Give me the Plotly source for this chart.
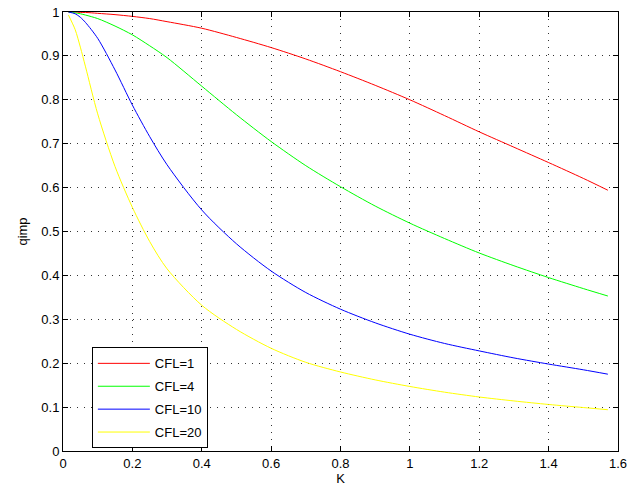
import plotly.graph_objects as go

K = [0.0157, 0.035, 0.05, 0.065, 0.1, 0.15, 0.2, 0.25, 0.3, 0.4, 0.5, 0.6, 0.7,
     0.8, 0.9, 1.0, 1.1, 1.2, 1.3, 1.4, 1.5, 1.5708]

q_cfl1 = [1.0, 1.0, 0.999, 0.999, 0.997, 0.994, 0.990, 0.985, 0.978, 0.963, 0.942,
          0.919, 0.893, 0.864, 0.833, 0.800, 0.764, 0.727, 0.692, 0.657, 0.621, 0.594]
q_cfl4 = [1.0, 0.998, 0.996, 0.993, 0.985, 0.968, 0.948, 0.923, 0.896, 0.831, 0.766,
          0.705, 0.650, 0.602, 0.558, 0.519, 0.484, 0.451, 0.422, 0.395, 0.370, 0.353]
q_cfl10 = [1.0, 0.996, 0.988, 0.976, 0.940, 0.868, 0.788, 0.716, 0.652, 0.549, 0.472,
           0.410, 0.361, 0.323, 0.292, 0.266, 0.245, 0.228, 0.212, 0.198, 0.185, 0.175]
q_cfl20 = [0.993, 0.960, 0.920, 0.875, 0.768, 0.648, 0.555, 0.477, 0.415, 0.332, 0.277,
           0.234, 0.202, 0.180, 0.162, 0.147, 0.134, 0.123, 0.114, 0.106, 0.099, 0.094]

series = [("CFL=1", q_cfl1, "#ff0000"),
          ("CFL=4", q_cfl4, "#00ff00"),
          ("CFL=10", q_cfl10, "#0000ff"),
          ("CFL=20", q_cfl20, "#ffff00")]

fig = go.Figure()
for i, (name, q, col) in enumerate(series):
    fig.add_trace(go.Scatter(x=K, y=q, mode="lines", name=name,
                             line=dict(color=col, width=1, shape="spline", smoothing=0.8),
                             legendgroup=f"g{i}"))

axis_common = dict(showline=True, linecolor="black", linewidth=1, mirror="ticks",
                   ticks="inside", ticklen=5, tickcolor="black",
                   showgrid=True, gridcolor="#333333", griddash="1px,6px", gridwidth=1,
                   zeroline=False, automargin=False,
                   tickfont=dict(size=13, color="black"))

fig.update_layout(
    width=632, height=496,
    margin=dict(l=63, r=14, t=12, b=45),
    paper_bgcolor="white", plot_bgcolor="white",
    font=dict(family="Liberation Sans, Arial, sans-serif", size=13, color="black"),
    xaxis=dict(range=[0, 1.6], dtick=0.2, tick0=0,
               title=dict(text="K", font=dict(size=13), standoff=0), **axis_common),
    yaxis=dict(range=[0, 1], dtick=0.1, tick0=0,
               title=dict(text="qimp", font=dict(size=13), standoff=10), **axis_common),
    legend=dict(x=0.052, y=0.236, xanchor="left", yanchor="top",
                bordercolor="black", borderwidth=1, bgcolor="white",
                font=dict(size=13), tracegroupgap=3, traceorder="grouped",
                itemwidth=52),
)

fig.write_html("out.html", config={"displayModeBar": False},
               post_script="document.body.style.margin='0';document.body.style.padding='0';")
